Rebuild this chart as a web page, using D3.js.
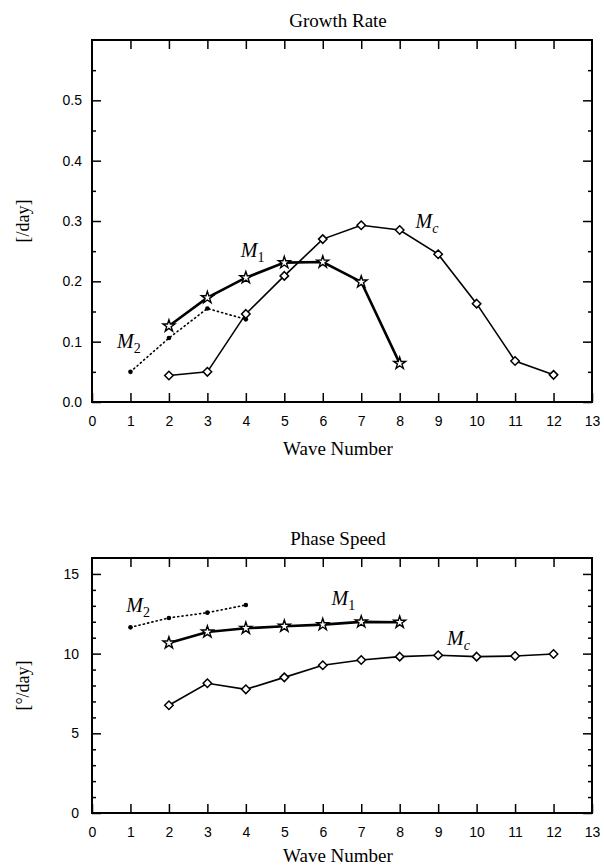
<!DOCTYPE html>
<html>
<head>
<meta charset="utf-8">
<script src="https://cdn.jsdelivr.net/npm/d3@7"></script>
<style>
  html, body { margin: 0; padding: 0; background: #fff; }
  svg { display: block; }
  .tick text { font-family: "Liberation Sans", Arial, sans-serif; font-size: 14px; fill: #000; }
  .serif { font-family: "Liberation Serif", "Times New Roman", serif; fill: #000; }
</style>
</head>
<body>
<svg id="chart" width="604" height="868"></svg>
<script>
// Wave numbers for each mode
const waveMc = [2, 3, 4, 5, 6, 7, 8, 9, 10, 11, 12];
const waveM1 = [2, 3, 4, 5, 6, 7, 8];
const waveM2 = [1, 2, 3, 4];

// Growth rate [/day]
const growthMc = [0.044, 0.050, 0.146, 0.209, 0.270, 0.293, 0.285, 0.245, 0.163, 0.068, 0.045];
const growthM1 = [0.126, 0.173, 0.206, 0.231, 0.232, 0.199, 0.064];
const growthM2 = [0.050, 0.106, 0.155, 0.137];

// Phase speed [deg/day]
const speedMc = [6.76, 8.14, 7.76, 8.51, 9.27, 9.60, 9.81, 9.90, 9.81, 9.85, 9.98];
const speedM1 = [10.67, 11.36, 11.59, 11.72, 11.82, 11.99, 11.97];
const speedM2 = [11.65, 12.24, 12.57, 13.05];

// Axis ticks
const xTicks = d3.range(0, 14);
const growthTicks = [0.0, 0.1, 0.2, 0.3, 0.4, 0.5];
const growthMinor = [0.05, 0.15, 0.25, 0.35, 0.45, 0.55];
const speedTicks = [0, 5, 10, 15];
const speedMinor = [1, 2, 3, 4, 6, 7, 8, 9, 11, 12, 13, 14];

const svg = d3.select("#chart");

function zip(xs, ys) { return xs.map((x, i) => [x, ys[i]]); }

function panel(cfg) {
  const x = d3.scaleLinear().domain([0, 13]).range([92, 592]);
  const y = d3.scaleLinear().domain(cfg.yDomain).range([cfg.bottom, cfg.top]);
  const g = svg.append("g");

  // axes: ticks point inward on all four sides
  const xb = g.append("g").attr("transform", `translate(0,${cfg.bottom})`)
    .call(d3.axisBottom(x).tickValues(xTicks).tickSize(-9).tickPadding(14).tickFormat(d3.format("d")));
  const xt = g.append("g").attr("transform", `translate(0,${cfg.top})`)
    .call(d3.axisTop(x).tickValues(xTicks.slice(1, -1)).tickSize(-9).tickFormat(""));
  const yl = g.append("g").attr("transform", `translate(92,0)`)
    .call(d3.axisLeft(y).tickValues(cfg.yTicks).tickSize(-9).tickPadding(cfg.yPad).tickFormat(d3.format(cfg.yFmt)));
  const yr = g.append("g").attr("transform", `translate(592,0)`)
    .call(d3.axisRight(y).tickValues(cfg.yTicks).tickSize(-9).tickFormat(""));
  const ylm = g.append("g").attr("transform", `translate(92,0)`)
    .call(d3.axisLeft(y).tickValues(cfg.yMinor).tickSize(-4).tickFormat(""));
  const yrm = g.append("g").attr("transform", `translate(592,0)`)
    .call(d3.axisRight(y).tickValues(cfg.yMinor).tickSize(-4).tickFormat(""));
  [xb, xt, yl, yr, ylm, yrm].forEach(a => {
    a.select(".domain").remove();
    a.selectAll(".tick line").attr("stroke", "#000").attr("stroke-width", 1.5);
  });

  // frame
  g.append("rect").attr("x", 92).attr("y", cfg.top)
    .attr("width", 500).attr("height", cfg.bottom - cfg.top)
    .attr("fill", "none").attr("stroke", "#000").attr("stroke-width", 2);

  const line = d3.line().x(d => x(d[0])).y(d => y(d[1]));

  // M2: dotted with small dots
  const m2 = zip(waveM2, cfg.m2);
  g.append("path").datum(m2).attr("d", line).attr("fill", "none")
    .attr("stroke", "#000").attr("stroke-width", 1.6)
    .attr("stroke-dasharray", "1.2,3.2").attr("stroke-linecap", "round");
  g.selectAll(".m2").data(m2).join("circle")
    .attr("cx", d => x(d[0])).attr("cy", d => y(d[1])).attr("r", 2.3).attr("fill", "#000");

  // Mc: thin line with open diamonds
  const mc = zip(waveMc, cfg.mc);
  g.append("path").datum(mc).attr("d", line).attr("fill", "none")
    .attr("stroke", "#000").attr("stroke-width", 1.6);
  const diamond = d3.symbol().type(d3.symbolDiamond2 || d3.symbolDiamond).size(46);
  g.selectAll(".mc").data(mc).join("path")
    .attr("transform", d => `translate(${x(d[0])},${y(d[1])})`)
    .attr("d", diamond).attr("fill", "#fff").attr("stroke", "#000").attr("stroke-width", 1.5);

  // M1: heavier line with open stars
  const m1 = zip(waveM1, cfg.m1);
  g.append("path").datum(m1).attr("d", line).attr("fill", "none")
    .attr("stroke", "#000").attr("stroke-width", 2.6);
  const star = d3.symbol().type(d3.symbolStar).size(44);
  g.selectAll(".m1").data(m1).join("path")
    .attr("transform", d => `translate(${x(d[0])},${y(d[1])})`)
    .attr("d", star).attr("fill", "#fff").attr("stroke", "#000").attr("stroke-width", 1.4);

  // mode labels
  cfg.labels.forEach(l => {
    const t = g.append("text").attr("class", "serif")
      .attr("x", x(l.k)).attr("y", y(l.v))
      .style("font-size", "20px").style("font-style", "italic");
    t.append("tspan").text("M");
    t.append("tspan").attr("dy", 5).style("font-size", "14px")
      .style("font-style", l.sub === "c" ? "italic" : "normal").text(l.sub);
  });

  // titles
  g.append("text").attr("class", "serif").attr("x", 338).attr("y", cfg.top - 13)
    .attr("text-anchor", "middle").style("font-size", "19px").text(cfg.title);
  g.append("text").attr("class", "serif").attr("x", 338).attr("y", cfg.bottom + cfg.xTitleGap)
    .attr("text-anchor", "middle").style("font-size", "19px").text("Wave Number");
  g.append("text").attr("class", "serif")
    .attr("transform", `translate(29,${(cfg.top + cfg.bottom) / 2}) rotate(-90)`)
    .attr("text-anchor", "middle").style("font-size", "18px").text(cfg.yLabel);
}

panel({
  top: 40, bottom: 402, yDomain: [0, 0.6], xTitleGap: 53,
  yTicks: growthTicks, yMinor: growthMinor, yFmt: ".1f", yPad: 10,
  mc: growthMc, m1: growthM1, m2: growthM2,
  title: "Growth Rate", yLabel: "[/day]",
  labels: [{ k: 0.65, v: 0.09, sub: "2" }, { k: 3.87, v: 0.24, sub: "1" }, { k: 8.41, v: 0.288, sub: "c" }]
});

panel({
  top: 558, bottom: 813, yDomain: [0, 16], xTitleGap: 49,
  yTicks: speedTicks, yMinor: speedMinor, yFmt: "d", yPad: 13,
  mc: speedMc, m1: speedM1, m2: speedM2,
  title: "Phase Speed", yLabel: "[°/day]",
  labels: [{ k: 0.89, v: 12.64, sub: "2" }, { k: 6.23, v: 13.06, sub: "1" }, { k: 9.23, v: 10.55, sub: "c" }]
});
</script>
</body>
</html>
